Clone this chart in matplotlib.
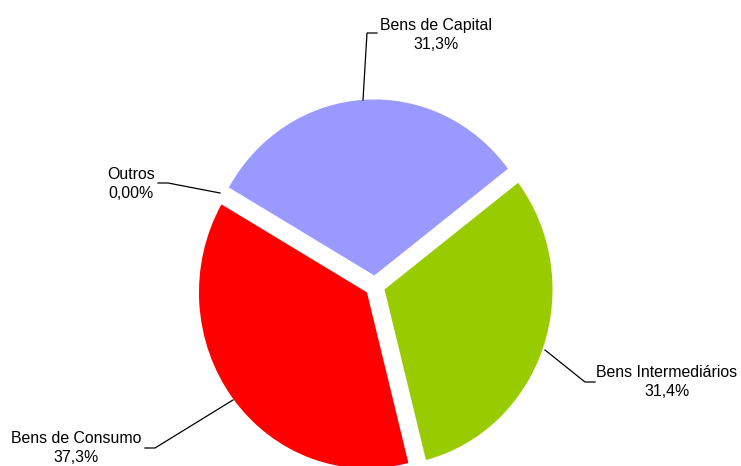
import matplotlib
matplotlib.use("Agg")
from matplotlib import pyplot as plt

plt.rcParams["font.family"] = ["Liberation Sans", "DejaVu Sans"]

# participação por categoria de uso (%)
categorias = ["Outros", "Bens de Capital", "Bens Intermediários", "Bens de Consumo"]
valores = [0.0, 31.3, 31.4, 37.3]
rotulos = ["0,00%", "31,3%", "31,4%", "37,3%"]
cores = ["#FFFFFF", "#9999FF", "#99CC00", "#FF0000"]

W, H = 741, 466
fig = plt.figure(figsize=(W / 100, H / 100), dpi=100)
ax = fig.add_axes([0, 0, 1, 1])

ax.pie(valores, colors=cores, startangle=150, counterclock=False,
       explode=[0.06] * len(valores), wedgeprops=dict(linewidth=0))

# raio de 168 px na horizontal e 176 px na vertical, centro em (375, 286)
cx, cy, rx, ry = 375, 286, 168, 176
ax.set_aspect("auto")
ax.set_xlim(-cx / rx, (W - cx) / rx)
ax.set_ylim(-(H - cy) / ry, cy / ry)
ax.axis("off")


def px(x, y):
    return x / W, 1 - y / H


# linhas de chamada (coordenadas em pixels, y a partir do topo)
guias = {
    "Bens de Capital": [(363, 100), (367, 33), (377, 33)],
    "Outros": [(220, 193), (168, 183), (158, 183)],
    "Bens Intermediários": [(545, 350), (585, 382), (595, 382)],
    "Bens de Consumo": [(233, 400), (155, 448), (145, 448)],
}
posicoes = {
    "Bens de Capital": (436, 35),
    "Outros": (131, 184),
    "Bens Intermediários": (667, 382),
    "Bens de Consumo": (76, 448),
}

for nome, rot in zip(categorias, rotulos):
    pts = [px(*p) for p in guias[nome]]
    fig.add_artist(plt.Line2D([p[0] for p in pts], [p[1] for p in pts],
                              color="black", linewidth=0.9,
                              transform=fig.transFigure))
    tx, ty = px(*posicoes[nome])
    fig.text(tx, ty, f"{nome}\n{rot}", ha="center", va="center",
             fontsize=11.4, linespacing=1.32, color="#000000")

fig.savefig("out.png", dpi=100)
